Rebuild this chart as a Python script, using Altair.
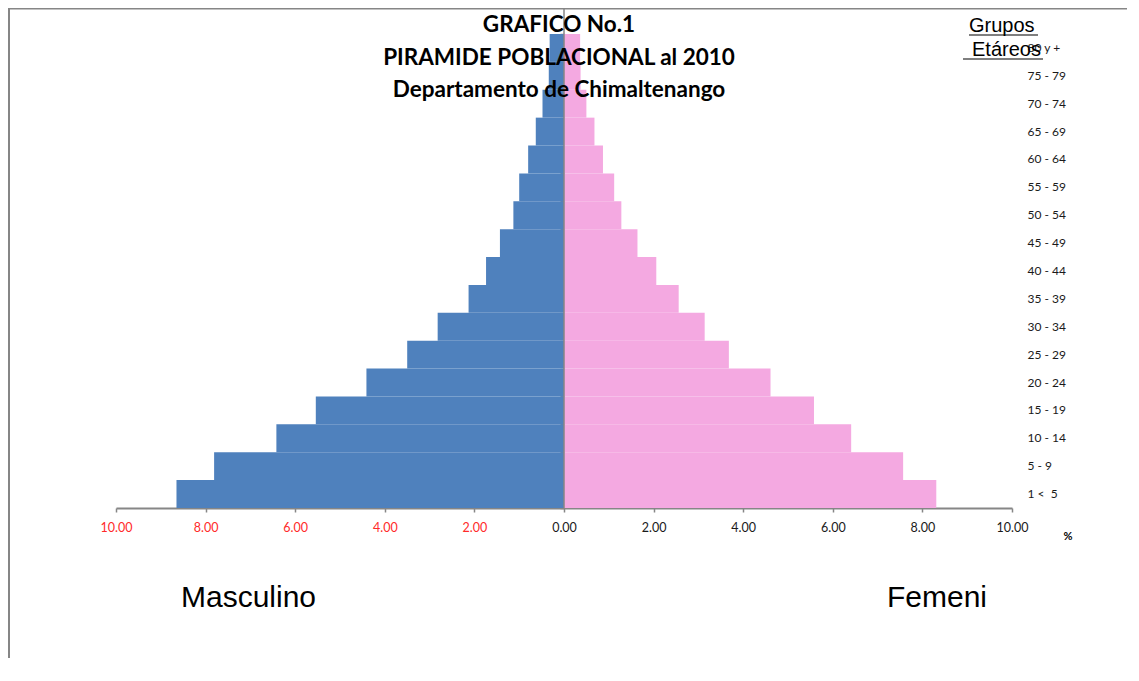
import altair as alt
import pandas as pd

groups = ["80 y +", "75 - 79", "70 - 74", "65 - 69", "60 - 64", "55 - 59",
          "50 - 54", "45 - 49", "40 - 44", "35 - 39", "30 - 34", "25 - 29",
          "20 - 24", "15 - 19", "10 - 14", "5 - 9", "1 <\u00a0 5"]
masculino = [0.32, 0.34, 0.48, 0.63, 0.80, 1.00, 1.13, 1.43, 1.74, 2.13, 2.82,
             3.50, 4.41, 5.54, 6.42, 7.81, 8.65]
femenino = [0.36, 0.37, 0.50, 0.68, 0.87, 1.12, 1.28, 1.64, 2.06, 2.56, 3.14,
            3.68, 4.61, 5.58, 6.41, 7.57, 8.31]
x_ticks = [-10, -8, -6, -4, -2, 0, 2, 4, 6, 8, 10]
title_lines = ["GRAFICO No.1", "PIRAMIDE POBLACIONAL al 2010",
               "Departamento de Chimaltenango"]

rows = []
for g, m, f in zip(groups, masculino, femenino):
    rows.append({"grupo": g, "sexo": "Masculino", "valor": -m})
    rows.append({"grupo": g, "sexo": "Femenino", "valor": f})
df = pd.DataFrame(rows)

GRAY = "#868686"
W, H = 896, 474

xscale = alt.Scale(domain=[-10, 10], nice=False, zero=True)
yscale = alt.Scale(domain=groups, paddingInner=0, paddingOuter=0)
xaxis = alt.Axis(values=x_ticks, title=None, grid=False, labelFlush=False,
                 labelOverlap=False,
                 labelExpr="format(abs(datum.value), '.2f')",
                 labelColor={"expr": "datum.value < 0 ? '#ff2a2a' : '#1a1a1a'"},
                 labelFont="Lato", labelFontSize=12.5, labelPadding=9,
                 domainColor=GRAY, domainWidth=2, tickColor=GRAY,
                 tickWidth=1.5, tickSize=4)

bars = alt.Chart(df).mark_bar(strokeWidth=0).encode(
    x=alt.X("valor:Q", scale=xscale, axis=xaxis),
    y=alt.Y("grupo:N", sort=groups, scale=yscale,
            axis=alt.Axis(orient="right", title=None, ticks=False, domain=False,
                          labelPadding=15, labelFont="Lato", labelFontSize=12,
                          labelColor="#1a1a1a", labelAlign="left")),
    color=alt.Color("sexo:N", scale=alt.Scale(domain=["Masculino", "Femenino"],
                                              range=["#4f81bd", "#f4a9e1"]),
                    legend=None),
)

tick_axis = alt.Chart(df).mark_bar(opacity=0).encode(
    x=alt.X("valor:Q", scale=xscale, axis=xaxis),
    y=alt.Y("grupo:N", sort=groups, scale=yscale,
            axis=alt.Axis(orient="left", offset=-448, title=None, labels=False,
                          domain=False, tickColor=GRAY, tickWidth=1.5, tickSize=4,
                          tickBand="extent")),
)

zero_line = alt.Chart(pd.DataFrame({"v": [0]})).mark_rule(color=GRAY, strokeWidth=1.5).encode(
    x=alt.X("v:Q", scale=xscale),
    y=alt.value(-29), y2=alt.value(H),
)

title = alt.Chart(pd.DataFrame({"t": title_lines, "i": [0, 1, 2]})).mark_text(
    font="Lato", fontWeight="bold", fontSize=22.5, align="center", baseline="middle",
    color="black",
).encode(
    text="t:N",
    x=alt.value(443),
    y=alt.Y("i:Q", scale=alt.Scale(domain=[0, 2], range=[-9, 56]), axis=None),
)

def txt(t, x, y, **kw):
    return alt.Chart(pd.DataFrame({"t": [t]})).mark_text(**kw).encode(
        text="t:N", x=alt.value(x), y=alt.value(y))

grupos = txt("Grupos", 853, -2, font="Liberation Sans", fontSize=20,
             align="left", baseline="alphabetic", color="black")
etareos = txt("Etáreos", 856, 22, font="Liberation Sans", fontSize=20,
              align="left", baseline="alphabetic", color="black")
pct = txt("%", 952, 503, font="Lato", fontWeight="bold", fontSize=11,
          align="center", baseline="middle", color="black")
masc = txt("Masculino", 65, 573, font="Liberation Sans", fontSize=30,
           align="left", baseline="alphabetic", color="black")
fem = txt("Femeni", 771, 573, font="Liberation Sans", fontSize=30,
          align="left", baseline="alphabetic", color="black")

def hline(x1, x2, y, color="black", w=1.2):
    return alt.Chart(pd.DataFrame({"a": [0]})).mark_rule(color=color, strokeWidth=w).encode(
        x=alt.value(x1), x2=alt.value(x2), y=alt.value(y))

def vline(x, y1, y2, color=GRAY, w=2):
    return alt.Chart(pd.DataFrame({"a": [0]})).mark_rule(color=color, strokeWidth=w).encode(
        x=alt.value(x), y=alt.value(y1), y2=alt.value(y2))

u1 = hline(853, 922, 1)
u2 = hline(847, 927, 25)
frame_top = hline(-108, 1023, -25.5, color=GRAY, w=2)
frame_left = vline(-107, -26, 650)

chart = alt.layer(
    bars, tick_axis, zero_line, title, grupos, etareos, u1, u2, pct, masc, fem,
    frame_top, frame_left,
).resolve_axis(y="independent").properties(
    width=W, height=H,
    autosize=alt.AutoSizeParams(type="none"),
    padding={"left": 108, "top": 26, "right": 115, "bottom": 150},
).configure_view(stroke=None)

chart.save("out.html", embed_options={"renderer": "svg", "actions": False})
